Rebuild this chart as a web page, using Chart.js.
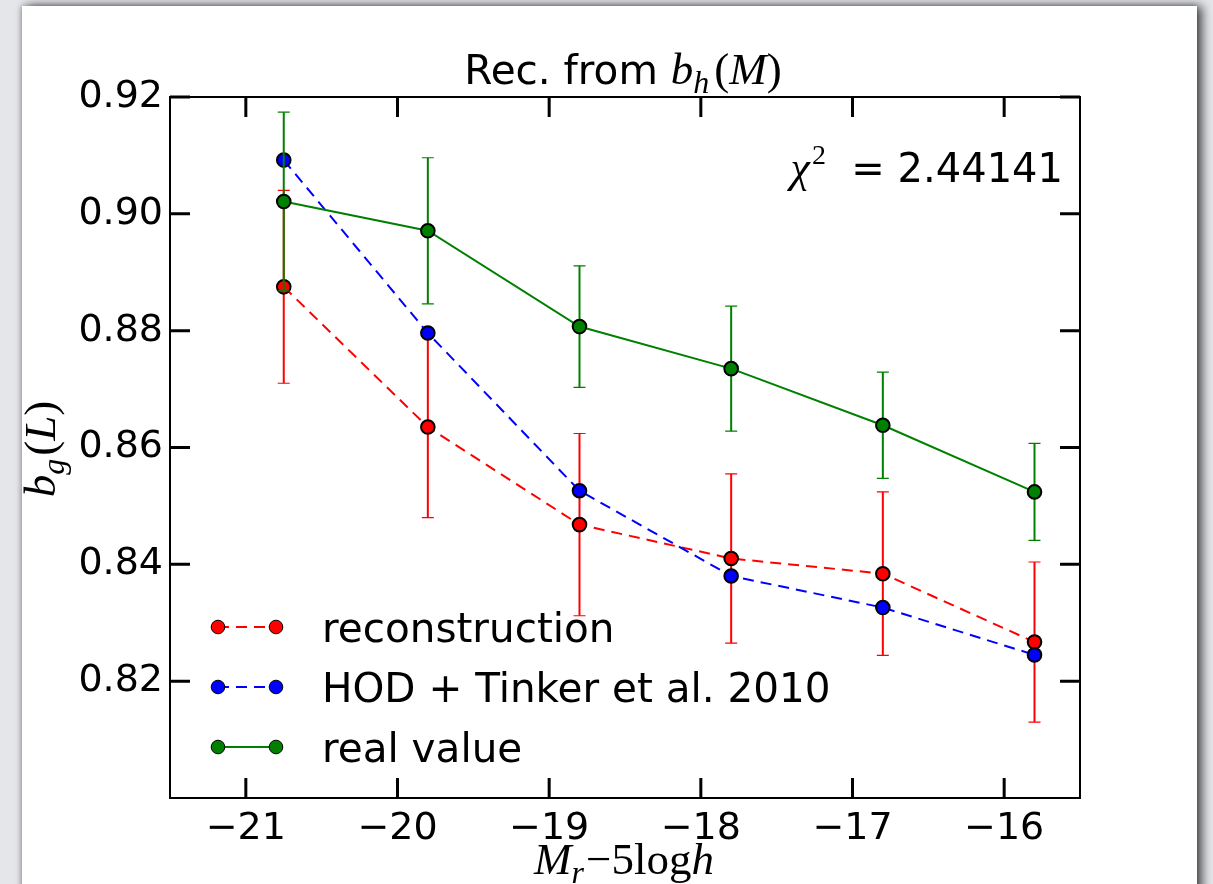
<!DOCTYPE html>
<html>
<head>
<meta charset="utf-8">
<script src="https://cdn.jsdelivr.net/npm/chart.js@4.4.1/dist/chart.umd.min.js"></script>
<style>
  body { margin: 0; width: 1213px; height: 884px; overflow: hidden; background: #e4e6e9; position: relative; }
  #panel { position: absolute; left: 22px; top: 6px; width: 1175px; height: 900px; background: #fff;
           box-shadow: 5px 0 10px rgba(0,0,0,0.7), -1px 0 5px rgba(0,0,0,0.25); }
  #grafica { position: absolute; left: 0; top: 0; }
</style>
</head>
<body>
<div id="panel"></div>
<canvas id="grafica" width="1213" height="884"></canvas>
<script>
// valores
const magBins = [-20.75, -19.8, -18.8, -17.8, -16.8, -15.8];
const recon = [0.8875, 0.8635, 0.8468, 0.8410, 0.8384, 0.8267];
const reconErr = [0.0165, 0.0155, 0.0156, 0.0145, 0.0140, 0.0137];
const hodTinker = [0.9092, 0.8796, 0.8526, 0.8380, 0.8326, 0.8245];
const realVal = [0.9021, 0.8971, 0.8807, 0.8735, 0.8638, 0.8524];
const realErr = [0.0153, 0.0125, 0.0104, 0.0107, 0.0091, 0.0083];
const xTicks = [-21, -20, -19, -18, -17, -16];
const yTicks = [0.82, 0.84, 0.86, 0.88, 0.90, 0.92];
const legendLabels = ["reconstruction", "HOD + Tinker et al. 2010", "real value"];

const SANS = '"DejaVu Sans"';
const SERIF = '"Liberation Serif"';

function puntos(ys) {
  return ys.map((y, i) => ({ x: magBins[i], y: y }));
}

// texto con varios trozos (mathtext a mano)
function medir(ctx, partes) {
  let w = 0;
  partes.forEach(p => { ctx.font = p.f; w += ctx.measureText(p.t).width + (p.dx || 0); });
  return w;
}
function escribir(ctx, partes, x, y) {
  partes.forEach(p => {
    ctx.font = p.f;
    x += (p.dx || 0);
    ctx.fillText(p.t, x, y + (p.dy || 0));
    x += ctx.measureText(p.t).width;
  });
}

const barrasError = {
  id: "barrasError",
  beforeDatasetDraw(chart, args) {
    const ds = chart.data.datasets[args.index];
    if (!ds.errores) return;
    const ctx = chart.ctx;
    const sx = chart.scales.x, sy = chart.scales.y;
    ctx.save();
    ctx.strokeStyle = ds.borderColor;
    ds.data.forEach((p, i) => {
      const px = sx.getPixelForValue(p.x);
      const top = sy.getPixelForValue(p.y + ds.errores[i]);
      const bot = sy.getPixelForValue(p.y - ds.errores[i]);
      ctx.lineWidth = 2;
      ctx.beginPath(); ctx.moveTo(px, top); ctx.lineTo(px, bot); ctx.stroke();
      ctx.lineWidth = 1.2;
      ctx.beginPath();
      ctx.moveTo(px - 6, top); ctx.lineTo(px + 6, top);
      ctx.moveTo(px - 6, bot); ctx.lineTo(px + 6, bot);
      ctx.stroke();
    });
    ctx.restore();
  }
};

const decoracion = {
  id: "decoracion",
  afterDraw(chart) {
    const ctx = chart.ctx;
    const a = chart.chartArea;
    const sx = chart.scales.x, sy = chart.scales.y;
    ctx.save();
    // marco
    ctx.strokeStyle = "#000";
    ctx.lineWidth = 2;
    ctx.strokeRect(a.left, a.top, a.right - a.left, a.bottom - a.top);
    // ticks hacia dentro en los 4 lados
    ctx.lineWidth = 3;
    ctx.beginPath();
    xTicks.forEach(v => {
      const px = sx.getPixelForValue(v);
      ctx.moveTo(px, a.bottom); ctx.lineTo(px, a.bottom - 20);
      ctx.moveTo(px, a.top); ctx.lineTo(px, a.top + 20);
    });
    yTicks.forEach(v => {
      const py = sy.getPixelForValue(v);
      ctx.moveTo(a.left, py); ctx.lineTo(a.left + 20, py);
      ctx.moveTo(a.right, py); ctx.lineTo(a.right - 20, py);
    });
    ctx.stroke();

    // leyenda
    const estilos = [
      { c: "#ff0000", dash: [11, 7] },
      { c: "#0000ff", dash: [11, 7] },
      { c: "#008000", dash: [] }
    ];
    legendLabels.forEach((txt, i) => {
      const y = 627 + i * 60;
      ctx.strokeStyle = estilos[i].c;
      ctx.lineWidth = 2;
      ctx.setLineDash(estilos[i].dash);
      ctx.beginPath(); ctx.moveTo(218, y); ctx.lineTo(276, y); ctx.stroke();
      ctx.setLineDash([]);
      [218, 276].forEach(mx => {
        ctx.beginPath(); ctx.arc(mx, y, 6.8, 0, Math.PI * 2);
        ctx.fillStyle = estilos[i].c; ctx.fill();
        ctx.lineWidth = 1; ctx.strokeStyle = "#000"; ctx.stroke();
      });
      ctx.fillStyle = "#000";
      ctx.font = "40.5px " + SANS;
      ctx.textAlign = "left";
      ctx.textBaseline = "alphabetic";
      ctx.fillText(txt, 322, y + 15);
    });

    ctx.fillStyle = "#000";
    ctx.textAlign = "left";
    ctx.textBaseline = "alphabetic";

    // título
    const titulo = [
      { t: "Rec. from ", f: "40.5px " + SANS },
      { t: "b", f: "italic 45px " + SERIF },
      { t: "h", f: "italic 32px " + SERIF, dy: 9 },
      { t: "(", f: "45px " + SERIF, dx: 5 },
      { t: "M", f: "italic 45px " + SERIF },
      { t: ")", f: "45px " + SERIF }
    ];
    escribir(ctx, titulo, 623 - medir(ctx, titulo) / 2, 84);

    // chi cuadrado
    const chi = [
      { t: "\u03c7", f: "italic 44px " + SERIF },
      { t: "2", f: "28px " + SERIF, dy: -18, dx: 2 },
      { t: "  = 2.44141", f: "40px " + SANS }
    ];
    escribir(ctx, chi, 1063 - medir(ctx, chi), 182);

    // etiqueta eje x
    const etX = [
      { t: "M", f: "italic 45px " + SERIF },
      { t: "r", f: "italic 32px " + SERIF, dy: 9 },
      { t: "\u22125log", f: "45px " + SERIF, dx: 2 },
      { t: "h", f: "italic 45px " + SERIF }
    ];
    escribir(ctx, etX, 624 - medir(ctx, etX) / 2, 874);

    // etiqueta eje y
    const etY = [
      { t: "b", f: "italic 45px " + SERIF },
      { t: "g", f: "italic 32px " + SERIF, dy: 9 },
      { t: "(", f: "45px " + SERIF, dx: 3 },
      { t: "L", f: "italic 45px " + SERIF },
      { t: ")", f: "45px " + SERIF }
    ];
    ctx.translate(55, 449);
    ctx.rotate(-Math.PI / 2);
    escribir(ctx, etY, -medir(ctx, etY) / 2, 0);
    ctx.restore();
  }
};

function crearGrafica() {
  const canvas = document.getElementById("grafica");
  new Chart(canvas, {
    type: "line",
    data: {
      datasets: [
        {
          label: legendLabels[2],
          data: puntos(realVal),
          errores: realErr,
          borderColor: "#008000",
          backgroundColor: "#008000",
          borderWidth: 2,
          order: 0
        },
        {
          label: legendLabels[1],
          data: puntos(hodTinker),
          borderColor: "#0000ff",
          backgroundColor: "#0000ff",
          borderWidth: 2,
          borderDash: [11, 7],
          order: 1
        },
        {
          label: legendLabels[0],
          data: puntos(recon),
          errores: reconErr,
          borderColor: "#ff0000",
          backgroundColor: "#ff0000",
          borderWidth: 2,
          borderDash: [11, 7],
          order: 2
        }
      ]
    },
    options: {
      responsive: false,
      animation: false,
      devicePixelRatio: 1,
      layout: { padding: { top: 97, right: 133, left: 0, bottom: 0 } },
      elements: {
        line: { tension: 0, fill: false },
        point: { radius: 6.8, borderWidth: 1, borderColor: "#000", hoverRadius: 6.8 }
      },
      datasets: { line: { pointBorderColor: "#000" } },
      scales: {
        x: {
          type: "linear",
          min: -21.5,
          max: -15.5,
          afterBuildTicks: s => { s.ticks = xTicks.map(v => ({ value: v })); },
          afterFit: s => { s.height = 86; },
          grid: { display: false, drawTicks: false },
          border: { display: false },
          ticks: {
            padding: 8,
            color: "#000",
            font: { family: "DejaVu Sans", size: 38 },
            callback: v => (v < 0 ? "\u2212" + Math.abs(v) : String(v))
          }
        },
        y: {
          min: 0.80,
          max: 0.92,
          afterBuildTicks: s => { s.ticks = yTicks.map(v => ({ value: v })); },
          afterFit: s => { s.width = 170; },
          grid: { display: false, drawTicks: false },
          border: { display: false },
          ticks: {
            padding: 7,
            color: "#000",
            font: { family: "DejaVu Sans", size: 38 },
            callback: v => v.toFixed(2)
          }
        }
      },
      plugins: {
        legend: { display: false },
        title: { display: false },
        tooltip: { enabled: false }
      }
    },
    plugins: [barrasError, decoracion]
  });
}

window.onload = crearGrafica;
</script>
</body>
</html>
